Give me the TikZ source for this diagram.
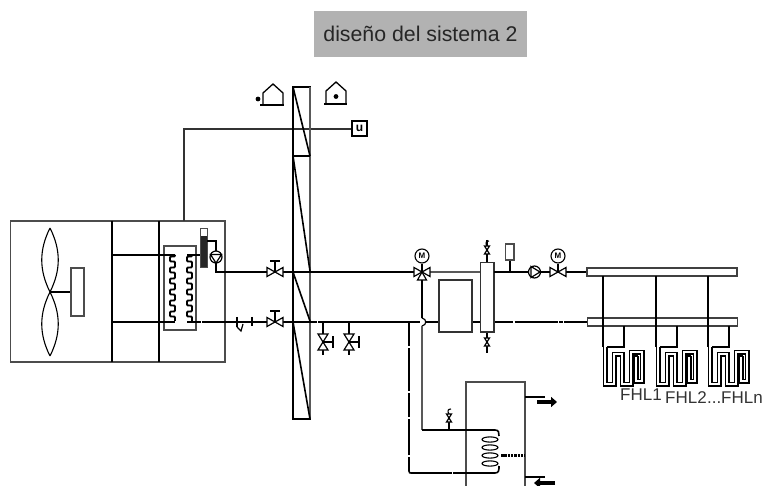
\documentclass[tikz,border=0pt]{standalone}
\usepackage{fontspec}
\setmainfont{Liberation Sans}
\usetikzlibrary{arrows.meta}
\tikzset{
  pipe/.style={line width=1.6pt,black},
  thinpipe/.style={line width=1.2pt,black!65},
  outline/.style={line width=1.2pt,draw=black!70},
  vbody/.style={line width=1.2pt,draw=black,fill=white},
  flow/.style={line width=4.5pt,-{Triangle[length=6pt,width=10pt]}},
  coil/.style={line width=1.5pt,black,double=white,double distance=2pt,line join=miter},
  lab/.style={font=\fontsize{17}{18}\selectfont,text=black!80,inner sep=0pt,anchor=base west}
}
\newcommand{\hvalve}[2]{\draw[vbody] (#1-8,#2-4.5)--(#1+8,#2+4.5)--(#1+8,#2-4.5)--(#1-8,#2+4.5)--cycle;}
\newcommand{\hvalveT}[2]{\hvalve{#1}{#2}\draw[pipe] (#1,#2)--(#1,#2-11) (#1-5,#2-11)--(#1+5,#2-11);}
\newcommand{\vvalveT}[2]{\draw[vbody] (#1-5,#2-8)--(#1+5,#2+8)--(#1-5,#2+8)--(#1+5,#2-8)--cycle;\draw[pipe] (#1,#2)--(#1+10,#2) (#1+10,#2-6)--(#1+10,#2+6);}
\newcommand{\svalve}[2]{\draw[line width=1.2pt,fill=white] (#1-2.5,#2-4)--(#1+2.5,#2+4)--(#1-2.5,#2+4)--(#1+2.5,#2-4)--cycle;}
\newcommand{\motor}[2]{\node[circle,draw=black,line width=1.1pt,minimum size=14pt,inner sep=0pt,font=\fontsize{8}{8}\selectfont\bfseries] at (#1,#2) {M};}
\newcommand{\zigzag}[2]{\draw[line width=1.8pt,rounded corners=1pt] (#1+5,#2)
  \foreach \k in {0,...,5}{ --++(0,1.5) --++(-5,0) --++(0,5) --++(5,0) --++(0,4.5)} ;}
\newcommand{\floorloop}[1]{\begin{scope}[shift={(#1,0)}]
  \draw[pipe] (603,276)--(603,347);
  \draw[pipe] (624,326)--(624,347)--(607,347);
  \draw[coil] (605,347)--(605,384)--(614,384)--(614,354)--(622,354)--(622,384)--(631,384)--(631,352)--(642,352)--(642,381)--(636,381)--(636,356);
  \draw[line width=1.5pt] (634,356)--(638,356);
\end{scope}}
\begin{document}
\begin{tikzpicture}[x=1pt,y=-1pt]
\useasboundingbox (0,0) rectangle (763,486);
% title
\node[fill=black!30,minimum width=213pt,minimum height=46pt,inner sep=0pt,text=black!85,font=\fontsize{21.3}{24}\selectfont] (title) at (420.5,34) {diseño del sistema 2};
% outdoor unit
\draw[outline] (10.5,221) rectangle (225,362);
\draw[pipe] (112,221)--(112,362) (159,221)--(159,362);
% fan
\draw[line width=1.1pt] (50,228) .. controls (39,250) and (39,270) .. (50,292) .. controls (61,270) and (61,250) .. (50,228);
\draw[line width=1.1pt] (50,356) .. controls (39,334) and (39,314) .. (50,292) .. controls (61,314) and (61,334) .. (50,356);
\draw[pipe] (50,292)--(71,292);
\node[outline,draw,fill=white,minimum width=13pt,minimum height=48pt,inner sep=0pt] (motorbox) at (77.5,292) {};
% exchanger
\draw[outline] (164,246) rectangle (196,330);
\draw[pipe] (112,255)--(175,255) (112,322)--(175,322);
\draw[pipe] (187,255)--(200,255) (187,322)--(201,322);
\zigzag{170}{255}
\zigzag{187}{255}
% control line
\draw[line width=1.3pt,black!80] (184,221)--(184,129)--(352,129);
\node[draw=black,line width=1.2pt,fill=white,minimum size=15pt,inner sep=0pt,font=\fontsize{12}{12}\selectfont\bfseries] (ctrl) at (359.5,128.5) {u};
% receiver and pump
\draw[line width=1.2pt,draw=black!70,fill=white] (200.5,228.5) rectangle (207.5,267);
\fill[black!85] (201,236) rectangle (207,267);
\draw[pipe] (207,241)--(216,241)--(216,251);
\draw[pipe] (216,263)--(216,272)--(268,272);
\draw[line width=1.2pt,fill=white] (216,257) circle (6);
\draw[line width=1.2pt] (210.5,254.5)--(221.5,254.5)--(216,263)--cycle;
% wall
\draw[pipe] (293,87) rectangle (310,419);
\draw[thinpipe] (310,87)--(310,419);
\draw[pipe] (293,156)--(310,156);
\draw[pipe] (293,87)--(310,156) (293,156)--(310,271) (293,272)--(310,321) (293,322)--(310,419);
% houses
\draw[line width=1.3pt] (263,105)--(263,93)--(273,84)--(283,93)--(283,105);
\draw[pipe] (260,105)--(284,105);
\fill (258,99) circle (2.4);
\draw[line width=1.3pt] (326,104)--(326,91)--(336,82)--(346,91)--(346,104);
\draw[pipe] (324,104)--(347,104);
\fill (336,96.5) circle (2.4);
% main pipes
\draw[pipe] (282,272)--(414,272);
\draw[pipe] (202,322)--(268,322);
\draw[pipe] (282,322)--(316.5,322) (318,322)--(420,322) (426,322)--(439,322) (472,322)--(480,322);
\draw[pipe] (494,322)--(513,322) (514.5,322)--(558,322) (559,322)--(563,322) (564,322)--(587,322);
% ticks and strainer
\draw[pipe] (237,317)--(237,327) (252,317)--(252,326);
\draw[line width=1.2pt] (237,327)--(241,331)--(243,324);
\hvalveT{275}{272}
\hvalveT{275}{322}
% drains
\draw[pipe] (323,322)--(323,355) (349,322)--(349,355);
\vvalveT{323}{342}
\vvalveT{349}{342}
% three way valve
\draw[thinpipe] (430,272)--(481,272);
\draw[pipe] (422,280)--(422,318);
\draw[line width=1.2pt] (422,318) .. controls (427,319) and (427,325) .. (422,326);
\draw[thinpipe] (422,326)--(422,430);
\draw[pipe] (422,264)--(422,272);
\draw[vbody] (414,267.5)--(430,276.5)--(430,267.5)--(414,276.5)--cycle;
\draw[vbody] (422,272)--(417.5,280)--(426.5,280)--cycle;
\motor{422}{256}
% tank and column
\draw[line width=1.2pt,draw=black!80,fill=white] (439,280) rectangle (472,332);
\draw[pipe] (487,240)--(487,262) (487,332)--(487,353);
\draw[line width=1.2pt,draw=black!80,fill=white] (480.5,262.5) rectangle (494,332);
\svalve{487}{250}
\svalve{487}{342}
\draw[line width=1.1pt] (487,246) .. controls (485,243) and (486,241) .. (489,241);
% right branch
\draw[pipe] (494,272)--(550,272) (566,272)--(587,272);
\draw[pipe] (510,272)--(510,260);
\draw[line width=1.2pt,draw=black!70,fill=white] (505.5,244) rectangle (514,260);
\draw[line width=1.2pt,fill=white] (534.5,272) circle (6);
\draw[line width=1.2pt] (531,266.5)--(531,277.5)--(540,272)--cycle;
\draw[pipe] (558,264)--(558,272);
\hvalve{558}{272}
\motor{558}{256}
% manifolds
\draw[line width=1.2pt,draw=black!75,fill=white] (587,268) rectangle (737,276);
\draw[line width=1.2pt,draw=black!75,fill=white] (587.5,318) rectangle (737.5,326);
\draw[pipe] (603,318)--(603,326) (656,318)--(656,326) (708,318)--(708,326);
\floorloop{0}
\floorloop{53}
\floorloop{105}
\node[lab] (fhlone) at (620,400) {FHL1};
\node[lab] (fhltwo) at (665,403) {FHL2};
\node[lab] (fhldots) at (707,403) {...};
\node[lab] (fhln) at (721,403) {FHLn};
% storage
\draw[line width=1.2pt,draw=black!70] (466,486)--(466,382)--(525,382)--(525,486);
\draw[pipe] (422,430)--(495,430) .. controls (499,430) and (499,433) .. (499,436);
\draw[pipe] (449,430)--(449,414);
\svalve{449}{418}
\draw[line width=1.1pt] (449,414) .. controls (447,411) and (448,409) .. (451,409);
\draw[pipe] (409,322)--(409,471) .. controls (409,473) and (410,473) .. (411,473) -- (495,473) .. controls (499,473) and (499,470) .. (499,466);
\foreach \yy in {439.5,447.5,455.5,463.5}{\draw[line width=1.1pt] (490,\yy) ellipse (8 and 2.6);}
\draw[line width=2.4pt,dash pattern=on 2.5pt off .8pt] (501,455.5)--(525,455.5);
\draw[white,line width=1.5pt] (408,347)--(410,347) (408,392)--(410,392) (408,418)--(410,418) (408,456)--(410,456);
\draw[white,line width=1.5pt] (452,473)--(453,473);
\draw[pipe] (525,397)--(545,397) (525,477)--(545,477);
\draw[flow] (537,402)--(557,402);
\draw[flow] (555,483)--(534,483);
\end{tikzpicture}
\end{document}
